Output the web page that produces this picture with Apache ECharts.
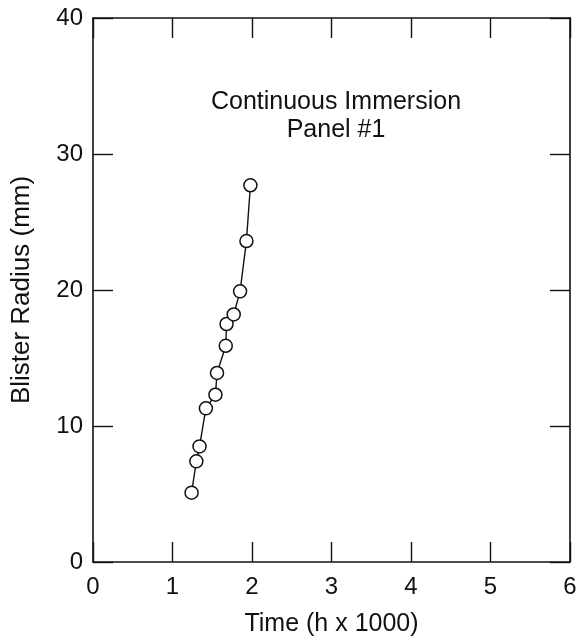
<!DOCTYPE html>
<html>
<head>
<meta charset="utf-8">
<script src="https://cdn.jsdelivr.net/npm/echarts@6/dist/echarts.min.js"></script>
<style>
html, body { margin: 0; padding: 0; background: #fff; }
#chart { width: 581px; height: 642px; }
</style>
</head>
<body>
<div id="chart"></div>
<script>
// blister growth, continuous immersion panel #1
var timeK = [1.24, 1.30, 1.34, 1.42, 1.54, 1.56, 1.67, 1.68, 1.77, 1.85, 1.93, 1.98];
var radiusMm = [5.1, 7.4, 8.5, 11.3, 12.3, 13.9, 15.9, 17.5, 18.2, 19.9, 23.6, 27.7];
var xTicks = [0, 1, 2, 3, 4, 5, 6];
var yTicks = [0, 10, 20, 30, 40];

var font = 'Liberation Sans, Arial, Helvetica, sans-serif';
var ink = '#111';

var points = timeK.map(function (t, i) { return [t, radiusMm[i]]; });

var tickStyle = { show: true, inside: true, length: 20, lineStyle: { color: ink, width: 1.4 } };
var lineStyle = { show: true, onZero: false, lineStyle: { color: ink, width: 1.6 } };

var chart = echarts.init(document.getElementById('chart'));
chart.setOption({
	animation: false,
	backgroundColor: '#fff',
	title: {
		text: 'Continuous Immersion\nPanel #1',
		left: 331,
		top: 83,
		textAlign: 'center',
		textStyle: { fontFamily: font, fontSize: 25, fontWeight: 'normal', color: ink, lineHeight: 28 }
	},
	grid: { left: 93, right: 11, top: 18, bottom: 79 },
	xAxis: [
		{
			type: 'value',
			min: xTicks[0],
			max: xTicks[xTicks.length - 1],
			interval: 1,
			position: 'bottom',
			name: 'Time (h x 1000)',
			nameLocation: 'middle',
			nameGap: 50,
			nameTextStyle: { fontFamily: font, fontSize: 25, color: ink },
			axisLine: lineStyle,
			axisTick: tickStyle,
			axisLabel: { fontFamily: font, fontSize: 24, color: ink, margin: 13 },
			splitLine: { show: false }
		},
		{
			type: 'value',
			min: xTicks[0],
			max: xTicks[xTicks.length - 1],
			interval: 1,
			position: 'top',
			axisLine: lineStyle,
			axisTick: tickStyle,
			axisLabel: { show: false },
			splitLine: { show: false }
		}
	],
	yAxis: [
		{
			type: 'value',
			min: yTicks[0],
			max: yTicks[yTicks.length - 1],
			interval: 10,
			position: 'left',
			name: 'Blister Radius (mm)',
			nameLocation: 'middle',
			nameGap: 58,
			nameTextStyle: { fontFamily: font, fontSize: 26, color: ink },
			axisLine: lineStyle,
			axisTick: tickStyle,
			axisLabel: { fontFamily: font, fontSize: 24, color: ink, margin: 10 },
			splitLine: { show: false }
		},
		{
			type: 'value',
			min: yTicks[0],
			max: yTicks[yTicks.length - 1],
			interval: 10,
			position: 'right',
			axisLine: lineStyle,
			axisTick: tickStyle,
			axisLabel: { show: false },
			splitLine: { show: false }
		}
	],
	series: [
		{
			type: 'line',
			data: points,
			xAxisIndex: 0,
			yAxisIndex: 0,
			symbol: 'circle',
			symbolSize: 13,
			lineStyle: { color: ink, width: 1.4 },
			itemStyle: { color: '#fff', borderColor: ink, borderWidth: 1.5 },
			z: 3
		}
	]
});
</script>
</body>
</html>
